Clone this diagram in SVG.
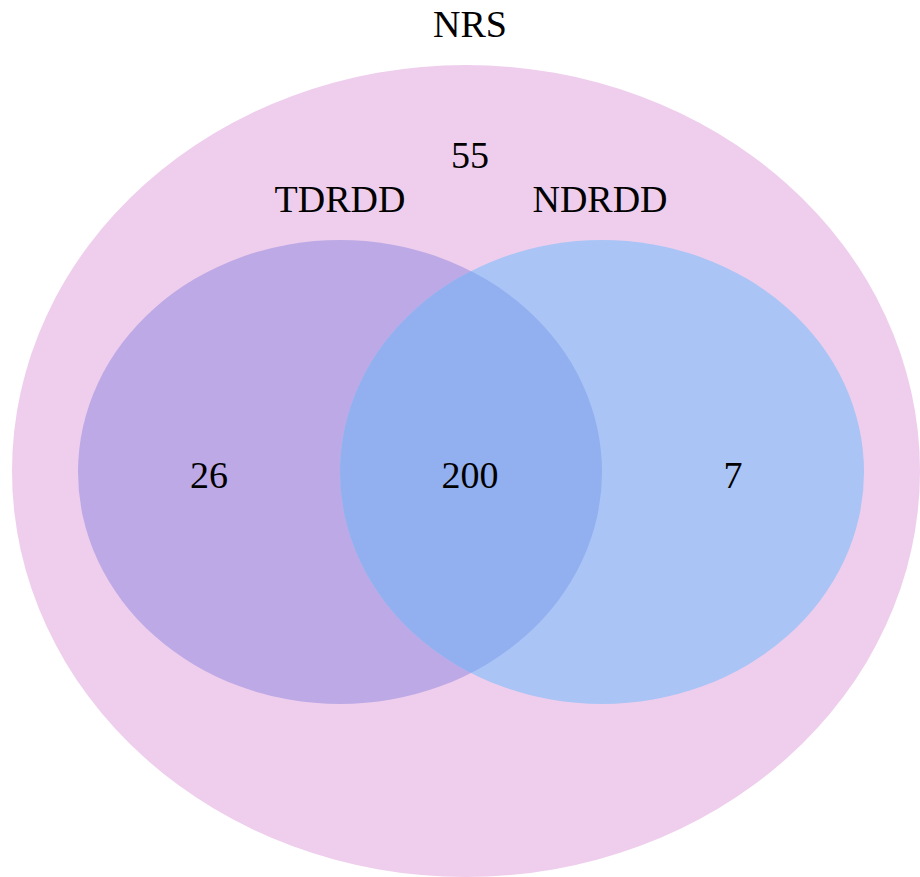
<svg xmlns="http://www.w3.org/2000/svg" width="920" height="877" viewBox="0 0 920 877">
  <defs>
    <style>
      .lbl { font-family: "Liberation Serif", "Times New Roman", serif; font-size: 38px; fill: #000; text-anchor: middle; }
    </style>
    <clipPath id="clipLeft">
      <ellipse cx="340" cy="472" rx="262" ry="232"/>
    </clipPath>
  </defs>
  <rect width="920" height="877" fill="#ffffff"/>

  <g id="nrs">
    <ellipse cx="466" cy="471" rx="454" ry="406" fill="#EECEEC"/>
    <text class="lbl" x="470" y="37">NRS</text>
    <text class="lbl" x="470" y="168">55</text>
  </g>

  <g id="tdrdd">
    <ellipse cx="340" cy="472" rx="262" ry="232" fill="#BCA9E5"/>
    <text class="lbl" x="340" y="212">TDRDD</text>
  </g>

  <g id="ndrdd">
    <ellipse cx="602" cy="472" rx="262" ry="232" fill="#A9C4F5"/>
    <text class="lbl" x="600" y="212">NDRDD</text>
  </g>

  <g id="overlap">
    <ellipse cx="602" cy="472" rx="262" ry="232" fill="#92AFF0" clip-path="url(#clipLeft)"/>
  </g>

  <g id="counts">
    <text class="lbl" x="209" y="488">26</text>
    <text class="lbl" x="470" y="488">200</text>
    <text class="lbl" x="733" y="488">7</text>
  </g>

  <g id="connectors"></g>
</svg>
